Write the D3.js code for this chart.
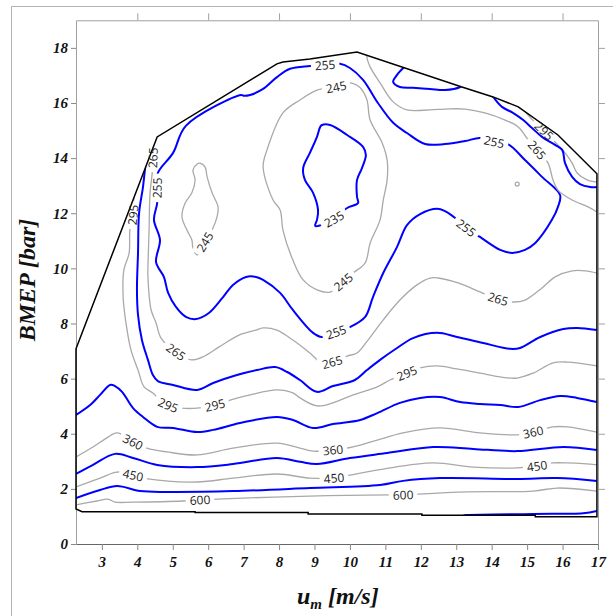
<!DOCTYPE html>
<html><head><meta charset="utf-8">
<script src="https://cdn.jsdelivr.net/npm/d3@7"></script>
<style>body{margin:0;background:#fff}svg{display:block}</style>
</head><body>
<svg id="c" width="613" height="616"></svg>
<script>
// ---------- data ----------
const xTicks = [3,4,5,6,7,8,9,10,11,12,13,14,15,16,17];
const yTicks = [0,2,4,6,8,10,12,14,16,18];
const topTicks = [4,6,8,10,12,14,16];
const rightTicks = [2,4,6,8,10,12,14,16,18];

const boundary = [[2.27,7.08],[4.56,14.77],[7.94,17.42],[8.11,17.49],[8.87,17.60],[10.20,17.85],[13.16,16.58],[14.04,16.22],[14.75,15.86],[15.87,14.84],[16.97,13.43],[16.97,0.99],[15.23,0.99],[15.23,1.04],[12.03,1.04],[12.03,1.09],[8.82,1.09],[8.82,1.14],[5.63,1.14],[5.63,1.17],[2.44,1.17],[2.27,1.27]];

const c255 = [[4.56,12.92],[4.56,12.37],[4.47,11.76],[4.64,11.03],[4.53,10.23],[4.75,9.69],[4.87,9.11],[5.09,8.60],[5.37,8.24],[5.66,8.16],[6.02,8.38],[6.42,8.96],[6.70,9.40],[7.07,9.69],[7.35,9.69],[7.55,9.58],[8.03,9.11],[8.39,8.49],[8.96,7.66],[9.21,7.51],[9.61,7.69],[10.00,7.87],[10.43,8.24],[10.65,8.96],[10.94,9.83],[11.33,10.78],[11.61,11.57],[11.98,11.97],[12.46,12.16],[12.68,12.08],[12.97,11.83],[13.28,11.47],[13.67,11.14],[14.24,10.67],[14.58,10.56],[14.94,10.67],[15.23,10.92],[15.70,11.76],[15.87,12.23],[15.93,12.66],[15.42,13.32],[14.94,13.93],[14.46,14.51],[14.07,14.59],[13.67,14.73],[13.25,14.62],[12.68,14.51],[12.12,14.51],[11.61,14.91],[11.22,15.28],[10.79,16.00],[10.37,16.84],[10.00,17.27],[9.72,17.42],[9.30,17.38],[8.87,17.34],[8.31,17.24],[7.94,16.94],[7.55,16.51],[7.18,16.29],[7.01,16.26],[6.93,16.29],[5.37,15.17],[5.01,14.19],[4.58,13.46]];
const lab255 = [[4.56,12.92],[9.61,7.69],[13.28,11.47],[14.07,14.59],[9.30,17.38]];

const c235 = [[9.21,15.20],[9.44,15.20],[9.92,14.84],[10.37,14.41],[10.45,14.11],[10.34,13.64],[10.20,13.21],[10.20,12.59],[10.23,12.37],[9.92,12.19],[9.55,11.79],[9.02,11.54],[9.07,11.76],[9.10,12.12],[8.96,12.74],[8.73,13.21],[8.68,13.64],[8.87,14.19],[9.07,14.77],[9.16,15.13]];
const lab235 = [[9.55,11.79]];

const c245 = [[9.61,16.58],[10.00,16.73],[10.29,16.55],[10.48,16.11],[10.57,15.38],[10.91,14.55],[11.05,13.93],[11.05,13.21],[10.94,12.48],[10.85,11.76],[10.57,10.92],[10.43,10.20],[10.09,9.83],[9.81,9.51],[9.44,9.14],[9.07,9.22],[8.68,9.58],[8.39,10.30],[8.11,11.39],[8.03,12.12],[7.83,12.48],[7.55,13.68],[7.66,14.30],[8.11,15.64],[8.59,16.11],[9.07,16.47]];
const lab245 = [[9.61,16.58],[9.81,9.51]];

const c245b = [[5.77,13.82],[5.91,13.68],[5.97,13.32],[6.11,12.74],[6.28,12.23],[6.25,11.87],[6.11,11.39],[5.91,10.96],[5.69,10.49],[5.57,10.74],[5.54,11.03],[5.40,11.39],[5.26,11.87],[5.35,12.37],[5.54,12.74],[5.63,13.21],[5.57,13.57],[5.69,13.79]];
const lab245b = [[5.91,10.96]];

const c245dot = [[14.72,13.06]];

const c265a = [[4.46,14.60],[4.44,14.01],[4.42,13.46],[4.36,12.74],[4.33,11.28],[4.30,10.05],[4.30,9.69],[4.39,8.49],[4.53,8.02],[4.67,7.47],[5.09,6.97],[5.52,6.68],[5.85,6.79],[6.31,7.15],[6.87,7.58],[7.35,7.76],[7.55,7.84],[7.94,7.76],[8.39,7.40],[8.87,6.93],[9.21,6.57],[9.50,6.60],[9.92,6.82],[10.20,6.93],[10.51,7.40],[10.94,8.13],[11.41,8.85],[11.89,9.40],[12.26,9.65],[12.49,9.65],[13.05,9.47],[13.73,9.11],[14.18,8.89],[14.60,8.78],[14.94,8.85],[15.42,9.29],[15.79,9.69],[16.27,9.91],[16.64,9.91],[16.97,9.83]];
const lab265a = [[4.44,14.01],[5.09,6.97],[9.50,6.60],[14.18,8.89]];

const c265b = [[10.51,17.92],[10.48,17.67],[10.57,17.31],[10.85,16.73],[11.22,16.04],[11.61,15.75],[12.26,15.75],[12.68,15.78],[13.25,15.78],[13.81,15.64],[14.38,15.38],[14.75,15.13],[15.03,14.66],[15.28,14.30],[15.59,13.82],[15.73,13.21],[15.87,12.84],[16.27,12.48],[16.72,12.23],[16.97,12.05]];
const lab265b = [[15.28,14.30]];

const c295a = [[3.90,12.90],[3.88,11.94],[3.79,11.39],[3.77,10.56],[3.62,9.94],[3.60,8.96],[3.68,8.02],[3.82,7.04],[4.02,6.31],[4.19,5.70],[4.44,5.48],[4.58,5.30],[4.87,5.04],[5.26,4.93],[5.69,4.93],[6.19,5.04],[6.62,5.22],[7.18,5.41],[7.94,5.59],[8.39,5.48],[8.59,5.30],[9.07,5.01],[9.52,5.12],[10.09,5.41],[10.77,5.70],[11.13,5.95],[11.61,6.20],[11.98,6.39],[12.46,6.46],[13.02,6.35],[13.67,6.20],[14.24,6.06],[14.72,6.02],[15.17,6.20],[15.73,6.57],[16.13,6.60],[16.97,6.46]];
const lab295a = [[3.88,11.94],[4.87,5.04],[6.19,5.04],[11.61,6.20]];

const c295b = [[14.80,15.97],[14.86,15.82],[15.23,15.28],[15.48,14.99],[15.73,14.66],[16.07,14.19],[16.27,13.82],[16.41,13.46],[16.69,13.21],[16.97,13.13]];
const lab295b = [[15.48,14.99]];

const c280a = [[4.25,13.95],[4.22,13.64],[4.16,12.95],[4.05,12.01],[4.02,10.56],[3.99,9.22],[4.02,8.31],[4.13,7.40],[4.30,6.68],[4.44,6.13],[4.58,5.91],[5.01,5.77],[5.69,5.59],[6.14,5.84],[6.81,6.13],[7.38,6.31],[7.89,6.42],[8.23,6.24],[8.59,5.95],[9.07,5.52],[9.52,5.73],[10.14,5.95],[10.48,6.31],[10.85,6.68],[11.33,7.11],[11.78,7.47],[12.46,7.66],[13.02,7.51],[13.76,7.29],[14.52,7.08],[14.80,7.11],[15.37,7.51],[16.02,7.80],[16.41,7.84],[16.97,7.76]];
const c280b = [[13.96,16.33],[14.04,16.22],[14.29,15.86],[14.60,15.64],[14.89,15.38],[15.14,15.09],[15.42,14.77],[15.79,14.48],[15.99,14.30],[16.07,13.82],[16.27,13.32],[16.49,13.06],[16.78,12.95],[16.97,12.95]];
const c255top = [[11.56,17.34],[11.33,17.02],[11.22,16.76],[11.41,16.58],[11.78,16.55],[12.26,16.51],[12.68,16.47],[13.11,16.58],[13.22,16.70]];

const c325 = [[2.27,4.68],[2.67,5.04],[2.95,5.41],[3.23,5.77],[3.37,5.73],[3.57,5.52],[3.88,4.93],[4.16,4.61],[4.56,4.25],[5.01,4.21],[5.69,4.06],[6.14,4.14],[6.90,4.39],[7.94,4.61],[8.39,4.50],[8.96,4.21],[9.52,4.35],[10.29,4.50],[10.77,4.75],[11.41,5.12],[11.98,5.30],[12.54,5.33],[13.11,5.15],[13.67,5.08],[14.24,5.04],[14.75,4.97],[15.37,5.22],[15.93,5.37],[16.41,5.30],[16.97,5.15]];

const c360 = [[2.27,3.16],[2.75,3.52],[3.14,3.85],[3.43,4.03],[3.88,3.70],[4.27,3.48],[4.84,3.34],[5.69,3.23],[6.70,3.48],[7.94,3.66],[8.59,3.48],[8.96,3.37],[9.52,3.41],[10.09,3.52],[10.77,3.77],[11.50,4.03],[12.54,4.21],[13.67,4.03],[14.72,3.96],[15.17,4.06],[15.73,4.25],[16.13,4.25],[16.97,4.06]];
const lab360 = [[3.88,3.70],[9.52,3.41],[15.17,4.06]];

const c400 = [[2.27,2.54],[2.75,2.87],[3.37,3.27],[3.88,3.12],[4.56,2.87],[5.69,2.79],[6.70,2.90],[7.94,3.12],[8.59,2.98],[9.07,2.90],[10.00,3.12],[11.05,3.30],[12.35,3.52],[13.48,3.45],[14.72,3.37],[16.02,3.52],[16.97,3.41]];

const c450 = [[2.27,2.07],[2.95,2.39],[3.43,2.61],[3.88,2.50],[4.30,2.36],[5.69,2.25],[6.70,2.39],[7.94,2.54],[8.87,2.39],[9.55,2.39],[10.00,2.50],[10.94,2.72],[12.35,2.94],[13.48,2.79],[14.72,2.76],[15.28,2.83],[15.73,2.94],[16.13,2.94],[16.97,2.87]];
const lab450 = [[3.88,2.50],[9.55,2.39],[15.28,2.83]];

const c500 = [[2.27,1.67],[2.95,1.96],[3.43,2.10],[4.08,1.92],[4.84,1.89],[6.70,1.92],[8.87,2.03],[10.85,2.14],[11.50,2.29],[12.54,2.39],[14.72,2.36],[15.85,2.39],[16.97,2.29]];

const c600 = [[2.27,1.42],[2.86,1.56],[3.17,1.63],[3.37,1.52],[3.88,1.52],[5.29,1.56],[5.77,1.60],[6.25,1.63],[8.87,1.74],[11.13,1.78],[11.50,1.78],[11.89,1.81],[13.31,1.89],[15.17,1.92],[15.85,2.03],[16.97,1.92]];
const lab600 = [[5.77,1.60],[11.50,1.78]];

const c700 = [[13.20,1.03],[13.31,1.05],[15.17,1.09],[16.58,1.12],[16.97,1.20]];

const BLUE = "#0000ff", GRAY = "#a9a9a9";
const contours = [
  {level:255, pts:c255, closed:true, color:BLUE, labels:lab255},
  {level:235, pts:c235, closed:true, color:BLUE, labels:lab235},
  {level:245, pts:c245, closed:true, color:GRAY, labels:lab245},
  {level:245, pts:c245b, closed:true, color:GRAY, labels:lab245b},
  {level:265, pts:c265a, closed:false, color:GRAY, labels:lab265a},
  {level:265, pts:c265b, closed:false, color:GRAY, labels:lab265b},
  {level:295, pts:c295a, closed:false, color:GRAY, labels:lab295a},
  {level:295, pts:c295b, closed:false, color:GRAY, labels:lab295b},
  {level:280, pts:c280a, closed:false, color:BLUE, labels:[]},
  {level:280, pts:c280b, closed:false, color:BLUE, labels:[]},
  {level:255, pts:c255top, closed:false, color:BLUE, labels:[]},
  {level:325, pts:c325, closed:false, color:BLUE, labels:[]},
  {level:360, pts:c360, closed:false, color:GRAY, labels:lab360},
  {level:400, pts:c400, closed:false, color:BLUE, labels:[]},
  {level:450, pts:c450, closed:false, color:GRAY, labels:lab450},
  {level:500, pts:c500, closed:false, color:BLUE, labels:[]},
  {level:600, pts:c600, closed:false, color:GRAY, labels:lab600},
  {level:700, pts:c700, closed:false, color:BLUE, labels:[]}
];

// ---------- drawing ----------
const svg = d3.select("#c");
const X = d3.scaleLinear().domain([2.27,17]).range([76,598]);
const Y = d3.scaleLinear().domain([0,19]).range([544,20.3]);
const serif = "'Liberation Serif','Times New Roman',serif";

svg.append("rect").attr("x",11.5).attr("y",6.5).attr("width",700).attr("height",700)
  .attr("fill","none").attr("stroke","#b4b4b4");

const defs = svg.append("defs");
const lineXY = d3.line().x(d=>X(d[0])).y(d=>Y(d[1]));
defs.append("clipPath").attr("id","clipB").append("path").attr("d", lineXY(boundary)+"Z");

// axes
function styleAxis(g, dom, tick){
  g.select(".domain").attr("stroke",dom);
  g.selectAll(".tick line").attr("stroke",tick);
  g.selectAll(".tick text").attr("fill","#111").style("font-family",serif)
    .style("font-weight","bold").style("font-style","italic").style("font-size","15px");
}
const gTop = svg.append("g").attr("transform","translate(0,20.3)")
  .call(d3.axisTop(X).tickValues(topTicks).tickSize(7).tickSizeOuter(0).tickFormat(""));
styleAxis(gTop,"#a0a0a0","#a0a0a0");
const gRight = svg.append("g").attr("transform","translate(598,0)")
  .call(d3.axisRight(Y).tickValues(rightTicks).tickSize(7).tickSizeOuter(0).tickFormat(""));
styleAxis(gRight,"#a0a0a0","#a0a0a0");
const gLeft = svg.append("g").attr("transform","translate(76,0)")
  .call(d3.axisLeft(Y).tickValues(yTicks).tickSize(5).tickSizeOuter(0).tickPadding(3).tickFormat(d3.format("d")));
styleAxis(gLeft,"#a0a0a0","#888");
const gBot = svg.append("g").attr("transform","translate(0,544)")
  .call(d3.axisBottom(X).tickValues(xTicks).tickSize(6).tickSizeOuter(0).tickPadding(6.3).tickFormat(d3.format("d")));
styleAxis(gBot,"#666","#888");

// axis titles
svg.append("text").attr("transform","translate(35,280) rotate(-90)").attr("text-anchor","middle")
  .style("font-family",serif).style("font-weight","bold").style("font-style","italic").style("font-size","24px")
  .attr("fill","#111").text("BMEP [bar]");
const xl = svg.append("text").attr("x",297).attr("y",604)
  .style("font-family",serif).style("font-weight","bold").style("font-style","italic").style("font-size","24px").attr("fill","#111");
xl.append("tspan").text("u");
xl.append("tspan").attr("dy",5).style("font-size","15px").text("m");
xl.append("tspan").attr("dy",-5).text(" [m/s]");

const contourG = svg.append("g").attr("clip-path","url(#clipB)");
const boundG = svg.append("g");
const labelG = svg.append("g");

function angleAt(px, closed, p){
  let best=0, bd=Infinity;
  px.forEach((q,i)=>{const d=(q[0]-p[0])**2+(q[1]-p[1])**2; if(d<bd){bd=d;best=i;}});
  const n=px.length;
  const a = closed ? px[(best-1+n)%n] : px[Math.max(0,best-1)];
  const b = closed ? px[(best+1)%n] : px[Math.min(n-1,best+1)];
  let ang = Math.atan2(b[1]-a[1], b[0]-a[0])*180/Math.PI;
  if(ang>=90) ang-=180;
  if(ang<-90) ang+=180;
  return ang;
}

contours.forEach((c,ci)=>{
  const px = c.pts.map(d=>[X(d[0]),Y(d[1])]);
  const labs = c.labels.map(l=>{
    const p=[X(l[0]),Y(l[1])];
    const ang=angleAt(px,c.closed,p);
    const t = labelG.append("text").attr("transform",`translate(${p[0]},${p[1]}) rotate(${ang})`)
      .attr("text-anchor","middle").attr("dominant-baseline","central")
      .style("font-family","'Open Sans','Noto Sans',sans-serif").style("font-size","12px")
      .attr("fill","#1a1a1a").text(c.level);
    return {p,ang,w:t.node().getComputedTextLength()};
  });
  let maskAttr=null;
  if(labs.length){
    const m = defs.append("mask").attr("id","m"+ci).attr("maskUnits","userSpaceOnUse")
      .attr("x",0).attr("y",0).attr("width",613).attr("height",616);
    m.append("rect").attr("x",0).attr("y",0).attr("width",613).attr("height",616).attr("fill","#fff");
    labs.forEach(l=>{
      m.append("rect").attr("x",-l.w/2-4).attr("y",-7).attr("width",l.w+8).attr("height",14)
        .attr("transform",`translate(${l.p[0]},${l.p[1]}) rotate(${l.ang})`).attr("fill","#000");
    });
    maskAttr="url(#m"+ci+")";
  }
  const gen = d3.line().x(d=>X(d[0])).y(d=>Y(d[1]))
    .curve(c.closed ? d3.curveCatmullRomClosed.alpha(0.5) : d3.curveCatmullRom.alpha(0.5));
  const path = contourG.append("path").attr("d",gen(c.pts)).attr("fill","none")
    .attr("stroke",c.color).attr("stroke-width",c.color===BLUE?2:1.3).attr("stroke-linejoin","round");
  if(maskAttr) path.attr("mask",maskAttr);
});

contourG.selectAll("circle.dot").data(c245dot).join("circle").attr("class","dot")
  .attr("cx",d=>X(d[0])).attr("cy",d=>Y(d[1])).attr("r",2).attr("fill","none").attr("stroke",GRAY).attr("stroke-width",1.2);

boundG.append("path").attr("d",lineXY(boundary)+"Z").attr("fill","none").attr("stroke","#000").attr("stroke-width",1.5);
</script>
</body></html>
